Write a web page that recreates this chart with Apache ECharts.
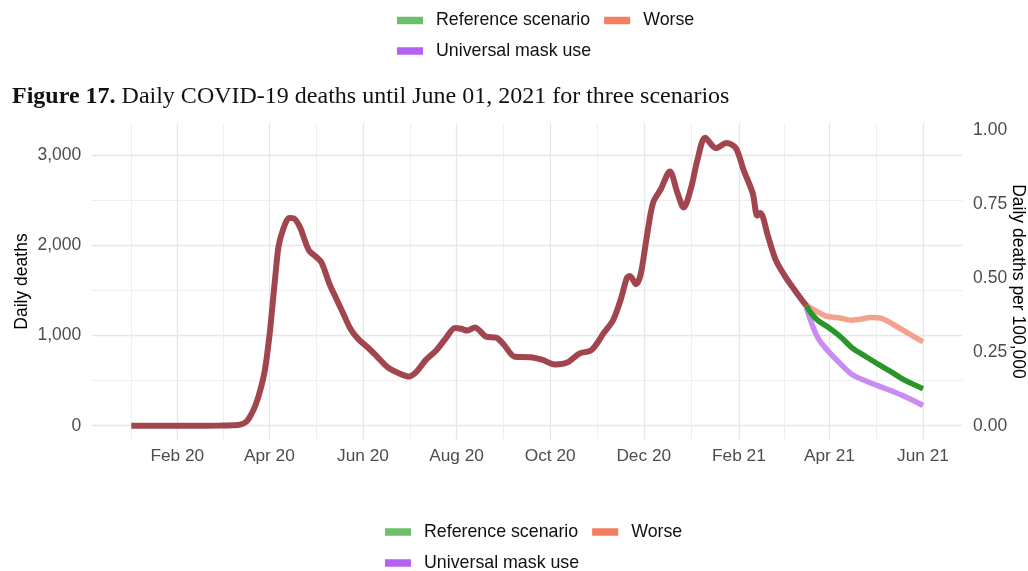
<!DOCTYPE html>
<html><head><meta charset="utf-8">
<script src="https://cdn.jsdelivr.net/npm/echarts@6/dist/echarts.min.js"></script>
<style>html,body{margin:0;padding:0;background:#fff}#c{width:1028px;height:571px}</style>
</head><body><div id="c"></div>
<script>
// ---- data ----
const historyDates = ['2020-01-02','2020-01-20','2020-02-10','2020-02-29','2020-03-08','2020-03-13','2020-03-17','2020-03-20','2020-03-23','2020-03-26','2020-03-29','2020-04-01','2020-04-03','2020-04-05','2020-04-07','2020-04-10','2020-04-14','2020-04-17','2020-04-21','2020-04-24','2020-04-27','2020-05-01','2020-05-05','2020-05-10','2020-05-15','2020-05-19','2020-05-24','2020-05-29','2020-06-04','2020-06-10','2020-06-17','2020-06-24','2020-07-01','2020-07-06','2020-07-12','2020-07-19','2020-07-25','2020-07-31','2020-08-04','2020-08-08','2020-08-13','2020-08-20','2020-08-27','2020-09-01','2020-09-08','2020-09-18','2020-09-26','2020-10-04','2020-10-12','2020-10-20','2020-10-28','2020-11-05','2020-11-11','2020-11-16','2020-11-20','2020-11-22','2020-11-26','2020-11-29','2020-12-03','2020-12-07','2020-12-12','2020-12-18','2020-12-23','2020-12-27','2021-01-01','2021-01-05','2021-01-10','2021-01-17','2021-01-24','2021-01-30','2021-02-04','2021-02-10','2021-02-13','2021-02-15','2021-02-20','2021-02-25','2021-03-03','2021-03-10','2021-03-17'];
const historyValues = [0,0,0,2,5,12,45,120,230,390,610,990,1330,1680,1990,2180,2305,2300,2200,2060,1940,1880,1810,1580,1395,1250,1070,960,870,770,650,585,545,600,730,840,970,1085,1075,1055,1090,990,975,895,765,760,730,680,700,800,840,1030,1170,1400,1640,1660,1570,1680,2100,2470,2620,2820,2580,2420,2650,2950,3195,3080,3135,3080,2840,2580,2330,2360,2100,1840,1660,1490,1330];

const referenceDates = ['2021-03-17','2021-03-20','2021-03-24','2021-03-31','2021-04-08','2021-04-16','2021-04-23','2021-05-02','2021-05-11','2021-05-20','2021-06-01'];
const referenceValues = [1330,1250,1175,1095,990,860,785,690,600,505,410];

const worseDates = ['2021-03-17','2021-03-22','2021-03-30','2021-04-08','2021-04-15','2021-04-21','2021-04-28','2021-05-05','2021-05-13','2021-05-22','2021-06-01'];
const worseValues = [1335,1285,1215,1195,1170,1182,1200,1190,1120,1030,930];

const maskDates = ['2021-03-17','2021-03-21','2021-03-25','2021-03-30','2021-04-08','2021-04-16','2021-04-26','2021-05-07','2021-05-18','2021-06-01'];
const maskValues = [1310,1110,960,850,690,565,488,415,340,225];

const xTickDates = ['2020-02-01','2020-04-01','2020-06-01','2020-08-01','2020-10-01','2020-12-01','2021-02-01','2021-04-01','2021-06-01'];
const yLeftTicks = [0,1000,2000,3000];
const yRightTicks = [0,0.25,0.5,0.75,1.0];
const deathsPerRightUnit = 3282; // US population / 100,000

const seriesNames = ['Reference scenario','Worse','Universal mask use'];
const legendColors = ['#6cbf6c','#f47e5e','#b460f0'];
const lineColors = ['#2a962a','#f3a28e','#c98cf4'];
const historyColor = '#a1464f';

// ---- helpers ----
const ts = s => { const [y,m,d] = s.split('-').map(Number); return Date.UTC(y, m-1, d); };
const MON = ['Jan','Feb','Mar','Apr','May','Jun','Jul','Aug','Sep','Oct','Nov','Dec'];
const fmtDate = v => { const d = new Date(v); return MON[d.getUTCMonth()] + ' ' + String(d.getUTCFullYear()).slice(2); };
const pairs = (ds, vs) => ds.map((d,i) => [ts(d), vs[i]]);

const allDates = historyDates.concat(referenceDates, worseDates, maskDates).map(ts);
const allVals = historyValues.concat(referenceValues, worseValues, maskValues);
const xMinD = Math.min(...allDates), xMaxD = Math.max(...allDates);
const xPad = (xMaxD - xMinD) * 0.05;
const yMinD = Math.min(...allVals), yMaxD = Math.max(...allVals);
const yPad = (yMaxD - yMinD) * 0.05;
const xMin = xMinD - xPad, xMax = xMaxD + xPad;
const yMin = yMinD - yPad, yMax = yMaxD + yPad;

const xMajor = xTickDates.map(ts);
const xExt = [2*xMajor[0]-xMajor[1]].concat(xMajor, [2*xMajor[xMajor.length-1]-xMajor[xMajor.length-2]]);
const xMinor = [];
for (let i = 0; i < xExt.length-1; i++) xMinor.push((xExt[i]+xExt[i+1])/2);
const yMinor = [];
for (let i = 0; i < yLeftTicks.length; i++) yMinor.push(yLeftTicks[i] + 500);

const font = "'Liberation Sans', Arial, sans-serif";
const serif = "'Liberation Serif', 'Times New Roman', serif";
const gridMajor = {show:true, lineStyle:{color:'#e6e6e6', width:1.3}};
const gridMinor = {show:true, lineStyle:{color:'#ededed', width:0.9}};

const legendBase = (names, left, top) => ({
  left: left, top: top, orient: 'horizontal', padding: 0, itemGap: 14,
  itemWidth: 26, itemHeight: 7.5, icon: 'rect', selectedMode: false,
  textStyle: {fontFamily: font, fontSize: 17.8, color: '#111', padding: [0,0,0,8], lineHeight: 20},
  data: names.map(n => ({name: n, itemStyle: {color: legendColors[seriesNames.indexOf(n)], opacity: 1}}))
});

const chart = echarts.init(document.getElementById('c'), null, {renderer: 'canvas'});
chart.setOption({
  animation: false,
  backgroundColor: '#fff',
  title: {
    left: 7, top: 80,
    text: '{b|Figure 17.} {n|Daily COVID-19 deaths until June 01, 2021 for three scenarios}',
    textStyle: {
      fontWeight: 'normal', fontFamily: serif, fontSize: 24,
      rich: {
        b: {fontFamily: serif, fontWeight: 'bold', fontSize: 24, color: '#111'},
        n: {fontFamily: serif, fontWeight: 'normal', fontSize: 24, color: '#111'}
      }
    }
  },
  legend: [
    legendBase(['Reference scenario','Worse'], 397, 10.5),
    legendBase(['Universal mask use'], 397, 41),
    legendBase(['Reference scenario','Worse'], 385, 522),
    legendBase(['Universal mask use'], 385, 553)
  ],
  graphic: [
    {type: 'text', x: 22, y: 281.5, rotation: Math.PI/2, silent: true,
     style: {text: 'Daily deaths', font: "17.5px 'Liberation Sans', Arial, sans-serif", fill: '#000', align: 'center', verticalAlign: 'middle'}},
    {type: 'text', x: 1018, y: 281.5, rotation: -Math.PI/2, silent: true,
     style: {text: 'Daily deaths per 100,000', font: "17.5px 'Liberation Sans', Arial, sans-serif", fill: '#000', align: 'center', verticalAlign: 'middle'}}
  ],
  grid: {left: 91.7, right: 65.4, top: 123.3, bottom: 130.9, containLabel: false, outerBoundsMode: 'none'},
  xAxis: [
    {type: 'value', min: xMin, max: xMax, position: 'bottom',
     axisLine: {show: false}, axisTick: {show: false, customValues: xMajor},
     axisLabel: {customValues: xMajor, formatter: fmtDate, fontFamily: font, fontSize: 17.3, color: '#4d4d4d', margin: 8},
     splitLine: gridMajor},
    {type: 'value', min: xMin, max: xMax, position: 'bottom',
     axisLine: {show: false}, axisTick: {show: false, customValues: xMinor},
     axisLabel: {show: false}, splitLine: gridMinor}
  ],
  yAxis: [
    {type: 'value', min: yMin, max: yMax, position: 'left',
     axisLine: {show: false}, axisTick: {show: false, customValues: yLeftTicks},
     axisLabel: {customValues: yLeftTicks, formatter: v => v.toLocaleString('en-US'), fontFamily: font, fontSize: 17.5, color: '#4d4d4d', margin: 10.5},
     splitLine: gridMajor},
    {type: 'value', min: yMin, max: yMax, position: 'left',
     axisLine: {show: false}, axisTick: {show: false, customValues: yMinor},
     axisLabel: {show: false}, splitLine: gridMinor},
    {type: 'value', min: yMin / deathsPerRightUnit, max: yMax / deathsPerRightUnit, position: 'right',
     axisLine: {show: false}, axisTick: {show: false, customValues: yRightTicks},
     axisLabel: {customValues: yRightTicks, formatter: v => v.toFixed(2), fontFamily: font, fontSize: 17.5, color: '#4d4d4d', margin: 10.5},
     splitLine: {show: false}}
  ],
  series: [
    {name: seriesNames[0], type: 'line', data: pairs(referenceDates, referenceValues), smooth: 0.3, showSymbol: false, z: 3,
     lineStyle: {color: lineColors[0], width: 5.5}, itemStyle: {color: lineColors[0]}},
    {name: seriesNames[1], type: 'line', data: pairs(worseDates, worseValues), smooth: 0.3, showSymbol: false, z: 2,
     lineStyle: {color: lineColors[1], width: 5.5}, itemStyle: {color: lineColors[1]}},
    {name: seriesNames[2], type: 'line', data: pairs(maskDates, maskValues), smooth: 0.3, showSymbol: false, z: 2,
     lineStyle: {color: lineColors[2], width: 5.5}, itemStyle: {color: lineColors[2]}},
    {name: 'Observed', type: 'line', data: pairs(historyDates, historyValues), smooth: 0.3, showSymbol: false, z: 4,
     lineStyle: {color: historyColor, width: 6}, itemStyle: {color: historyColor}}
  ]
});
</script></body></html>
